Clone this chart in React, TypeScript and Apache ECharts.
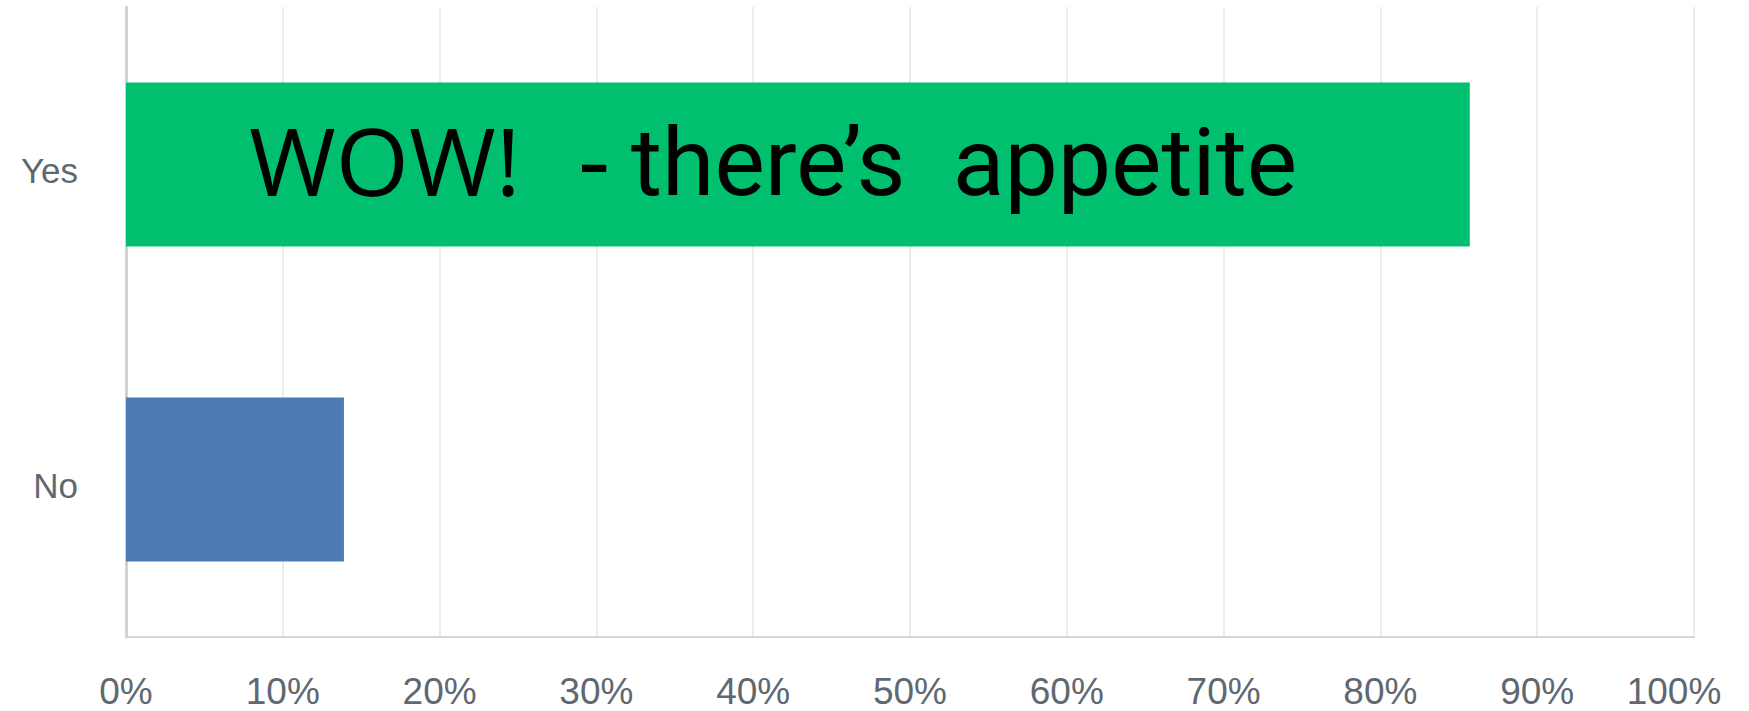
import React, { useEffect, useRef } from "react";
import * as echarts from "echarts";

const categories = ["Yes", "No"];
const values = [85.7, 13.9];
const barColors = ["#00BF6F", "#4F7BB4"];
const tickValues = [0, 10, 20, 30, 40, 50, 60, 70, 80, 90, 100];
const annotationA = "WOW!";
const annotationDash = "-";
const annotationB = "there\u2019s  appetite";

export default function App() {
  const ref = useRef<HTMLDivElement>(null);
  useEffect(() => {
    document.body.style.margin = "0";
    const chart = echarts.init(ref.current!, null, { renderer: "svg" });
    const labelFont = "Liberation Sans, Arial, sans-serif";
    chart.setOption({
      animation: false,
      backgroundColor: "#ffffff",
      grid: { left: 126, right: 55, top: 7, bottom: 74, containLabel: false },
      xAxis: {
        type: "value",
        min: tickValues[0],
        max: tickValues[tickValues.length - 1],
        interval: 10,
        axisLine: { show: true, lineStyle: { color: "#d4d6d8", width: 2 } },
        axisTick: { show: false },
        splitLine: { show: true, lineStyle: { color: "#ececec", width: 2 } },
        axisLabel: {
          color: "#5f6871",
          fontFamily: labelFont,
          fontSize: 37,
          margin: 36,
          formatter: (v: number) => (v === 100 ? "{last|" + v + "%}" : v + "%"),
          rich: {
            last: {
              color: "#5f6871",
              fontFamily: labelFont,
              fontSize: 37,
              padding: [0, 40, 0, 0],
            },
          },
        },
      },
      yAxis: {
        type: "category",
        inverse: true,
        data: categories,
        axisLine: { show: true, lineStyle: { color: "#cfd1d3", width: 3 } },
        axisTick: { show: false },
        splitLine: { show: false },
        axisLabel: {
          margin: 48,
          formatter: (v: string) => "{c|" + v + "}",
          rich: {
            c: {
              color: "#5f6871",
              fontFamily: labelFont,
              fontSize: 35,
              padding: [12, 0, 0, 0],
            },
          },
        },
      },
      series: [
        {
          type: "bar",
          barCategoryGap: "48%",
          data: values.map((v, i) => ({ value: v, itemStyle: { color: barColors[i] } })),
        },
      ],
      graphic: [
        {
          type: "text",
          left: 249,
          top: 113,
          z: 100,
          style: { text: annotationA, fill: "#000000", font: "94px 'Open Sans', sans-serif" },
        },
        {
          type: "text",
          left: 578,
          top: 106,
          z: 100,
          style: { text: annotationDash, fill: "#000000", font: "100px 'Open Sans', sans-serif" },
        },
        {
          type: "text",
          left: 631,
          top: 115,
          z: 100,
          style: { text: annotationB, fill: "#000000", font: "95px Roboto, sans-serif" },
        },
      ],
    });
    return () => chart.dispose();
  }, []);
  return <div ref={ref} style={{ width: 1749, height: 711 }} />;
}
